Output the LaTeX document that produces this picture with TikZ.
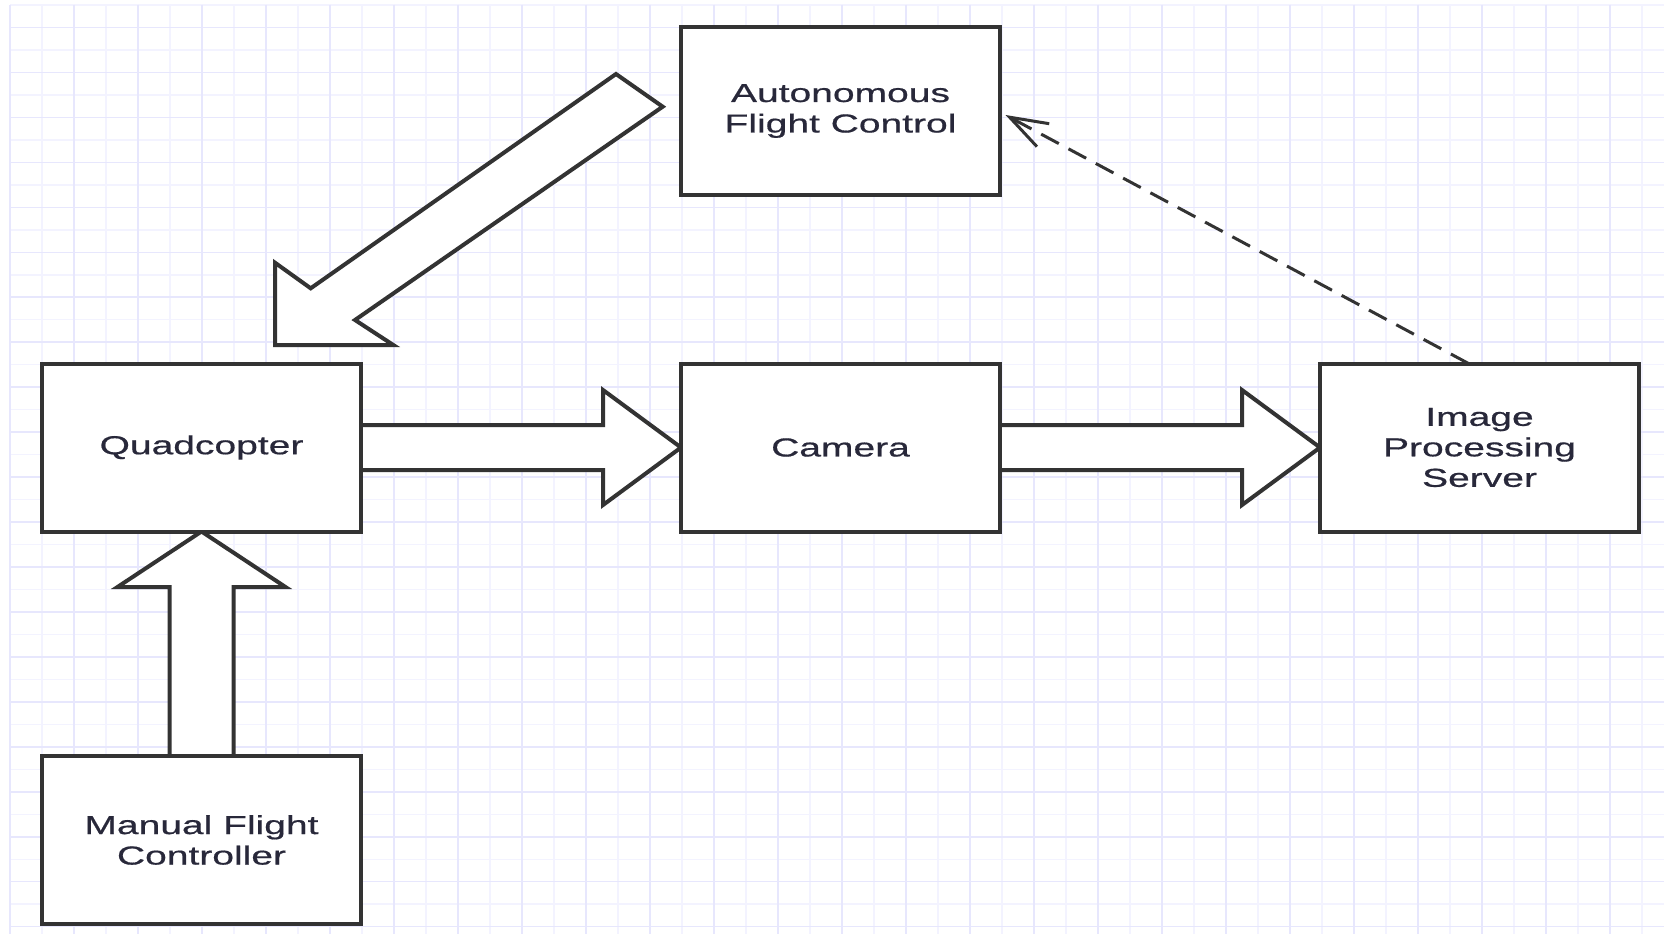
\documentclass[tikz,border=0pt]{standalone}
\usepackage{fontspec}
\newfontfamily\boxfont[FakeStretch=1.5,FakeBold=0.6]{Liberation Sans}
\usepackage{xcolor}
\usepackage{tikz}
\usetikzlibrary{positioning,arrows.meta,calc}

\definecolor{edge}{RGB}{51,51,51}
\definecolor{ink}{RGB}{40,40,58}
\definecolor{gridminor}{RGB}{243,243,255}
\definecolor{gridmajor}{RGB}{231,231,253}

\pgfdeclarelayer{back}
\pgfdeclarelayer{front}
\pgfsetlayers{back,main,front}

\newcommand\flowarrow[2]{%
  \draw[fatarrow] ($(#1.east)+(0,-22.5)$) -- ($(#2.west)+(-78,-22.5)$)
    -- ($(#2.west)+(-78,-57.5)$) -- (#2.west) -- ($(#2.west)+(-78,57.5)$)
    -- ($(#2.west)+(-78,22.5)$) -- ($(#1.east)+(0,22.5)$);}

\begin{document}
\begin{tikzpicture}[x=1pt, y=-1pt,
  block/.style={draw=edge, line width=4pt, fill=white, minimum width=319pt,
    minimum height=168pt, inner sep=0pt, outer sep=0pt, text=ink, align=center,
    font=\boxfont\fontsize{26}{30.5}\selectfont},
  fatarrow/.style={draw=edge, fill=white, line width=4pt, line join=miter},
  dataflow/.style={draw=edge, line width=3pt, dash pattern=on 20pt off 11pt,
    -{Straight Barb[length=38pt,width=26pt]}}]
  \useasboundingbox (0,0) rectangle (1664,934);

  % paper grid
  \begin{pgfonlayer}{back}
    \fill[white] (0,0) rectangle (1664,934);
    \foreach \k in {0,...,51}
      \draw[gridminor, line width=1.5pt] (10+32*\k,5) -- (10+32*\k,934);
    \foreach \k in {0,...,41}
      \draw[gridminor, line width=1.5pt] (10,5+22.48*\k) -- (1664,5+22.48*\k);
    \foreach \k in {0,2,...,50}
      \draw[gridmajor, line width=1.5pt] (10+32*\k,5) -- (10+32*\k,934);
    \foreach \k in {1,3,...,41}
      \draw[gridmajor, line width=1.5pt] (10,5+22.48*\k) -- (1664,5+22.48*\k);
  \end{pgfonlayer}

  \begin{pgfonlayer}{front}
    \node[block] (quad) at (201.5,447.5) {Quadcopter};
    \node[block, right=320pt of quad] (cam) {Camera};
    \node[block, right=320pt of cam] (server) {Image\\Processing\\Server};
    \node[block, above=168.5pt of cam] (auto) {Autonomous\\Flight Control};
    \node[block, below=224.5pt of quad] (manual) {Manual Flight\\Controller};
  \end{pgfonlayer}

  \flowarrow{quad}{cam}
  \flowarrow{cam}{server}

  \draw[fatarrow] ($(manual.north)+(-32,0)$) -- ($(quad.south)+(-32,55.5)$)
    -- ($(quad.south)+(-84,55.5)$) -- (quad.south) -- ($(quad.south)+(84,55.5)$)
    -- ($(quad.south)+(32,55.5)$) -- ($(manual.north)+(32,0)$);

  % command arrow from the autopilot down to the quadcopter
  \draw[fatarrow] (616,74) -- (662.7,106.7) -- (355,320) -- (393.3,345)
    -- (275,345) -- (275,262.7) -- (310.7,288.3) -- cycle;

  \draw[dataflow] ($(server.north)+(-11,0)$) -- ($(auto.east)+(5.5,4)$);
\end{tikzpicture}
\end{document}
